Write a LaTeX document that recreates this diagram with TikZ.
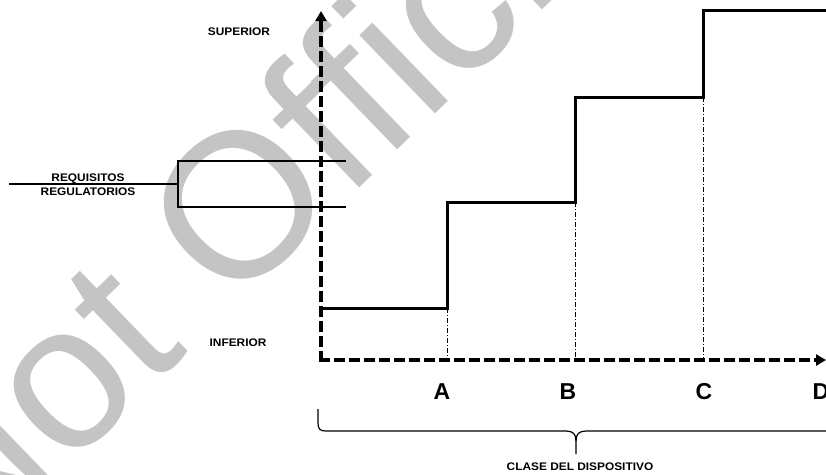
\documentclass[tikz,border=0pt]{standalone}
\usepackage{fontspec}
\setmainfont{Liberation Sans}
\newfontfamily\labfont{Liberation Sans}[FakeStretch=1.08]
\newfontfamily\wmfont{Liberation Sans}
\usetikzlibrary{arrows.meta}
\definecolor{wmgray}{RGB}{196,196,196}
\tikzset{
  axisline/.style={line width=3.5pt, dash pattern=on 11pt off 4pt, -{Triangle[length=10pt,width=11pt]}},
  stepline/.style={line width=3pt, line join=miter},
  guideline/.style={line width=1pt, dash pattern=on 5pt off 2pt on 1pt off 2pt},
  thinline/.style={line width=1.2pt},
  smalllab/.style={font=\labfont\bfseries\fontsize{11}{14}\selectfont, inner sep=0pt, align=center},
  biglab/.style={font=\bfseries\fontsize{23}{23}\selectfont, inner sep=0pt},
  watermark/.style={font=\wmfont\fontsize{206}{206}\selectfont, text=wmgray, inner sep=0pt, anchor=base west, rotate=44}
}
\begin{document}
\begin{tikzpicture}[x=1pt,y=-1pt]
\useasboundingbox (0,0) rectangle (826,474);
% watermark
\node[watermark] (wm) at (-41,574) {Not Official};

% axes
\coordinate (orig) at (321,362);
\coordinate (ytip) at (321,11);
\coordinate (xorig) at (319,360);
\coordinate (xtip) at (826,360);
\draw[axisline] (orig) -- (ytip);
\draw[axisline] (xorig) -- (xtip);

% step function
\coordinate (s0) at (321,308);
\coordinate (s1) at (447,308);
\coordinate (s2) at (447,202);
\coordinate (s3) at (575,202);
\coordinate (s4) at (575,97);
\coordinate (s5) at (703,97);
\coordinate (s6) at (703,10);
\coordinate (s7) at (832,10);
\draw[stepline] (s0) -- (s1) -- (s2) -- (s3) -- (s4) -- (s5) -- (s6) -- (s7);

% guide lines
\coordinate (gA) at (447,360);
\coordinate (gB) at (575,360);
\coordinate (gC) at (703,360);
\draw[guideline] (s1) -- (gA);
\draw[guideline] (s3) -- (gB);
\draw[guideline] (s5) -- (gC);

% regulatory bracket
\coordinate (r0) at (9,184);
\coordinate (r1) at (178,184);
\coordinate (rt) at (178,161);
\coordinate (rb) at (178,207);
\coordinate (rte) at (346,161);
\coordinate (rbe) at (346,207);
\draw[thinline] (r0) -- (r1);
\draw[thinline] (rte) -- (rt) -- (rb) -- (rbe);
\node[smalllab] (req) at (88,185) {REQUISITOS\\REGULATORIOS};

% level labels
\node[smalllab] (sup) at (239,32) {SUPERIOR};
\node[smalllab] (inf) at (238,343) {INFERIOR};

% class labels
\node[biglab] (A) at (442,392) {A};
\node[biglab] (B) at (568,392) {B};
\node[biglab] (C) at (704,392) {C};
\node[biglab] (D) at (821,392) {D};

% brace
\coordinate (b0) at (318,409);
\coordinate (btip) at (576,454);
\coordinate (bend) at (832,431);
\draw[thinline] (b0) -- (318,423) .. controls (318,429) and (320,431) .. (326,431)
  -- (566,431) .. controls (573,431) and (576,434) .. (576,441) -- (btip);
\draw[thinline] (576,441) .. controls (576,434) and (579,431) .. (586,431) -- (bend);
\node[smalllab] (clase) at (580,467) {CLASE DEL DISPOSITIVO};
\end{tikzpicture}
\end{document}
